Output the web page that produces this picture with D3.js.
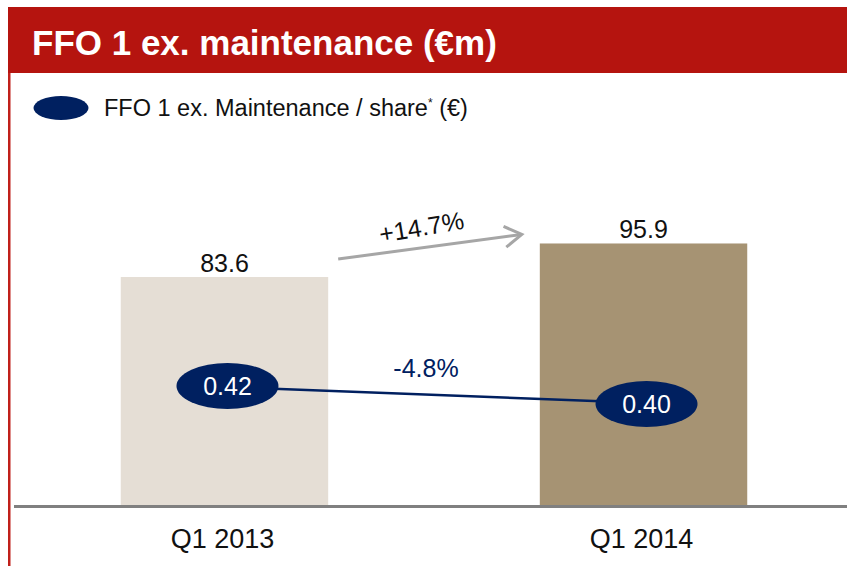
<!DOCTYPE html>
<html>
<head>
<meta charset="utf-8">
<script src="https://cdn.jsdelivr.net/npm/d3@7"></script>
<style>
  body { margin: 0; background: #fff; }
  svg { display: block; font-family: Arial, "Liberation Sans", sans-serif; }
</style>
</head>
<body>
<div id="chart"></div>
<script>
const categories = ['Q1 2013', 'Q1 2014']
const ffoValues = [83.6, 95.9]
const perShare = [0.42, 0.40]
const perShareLabels = ['0.42', '0.40']
const barColors = ['#E5DED5', '#A69373']
const growthLabel = '+14.7%'
const shareChangeLabel = '-4.8%'

const width = 847, height = 566
const navy = '#002060'

const svg = d3.select('#chart').append('svg')
    .attr('width', width)
    .attr('height', height)

// header band
svg.append('rect').attr('x', 8).attr('y', 7).attr('width', width - 8).attr('height', 66).attr('fill', '#B5140F')
svg.append('text').text('FFO 1 ex. maintenance (€m)')
    .attr('x', 32).attr('y', 55)
    .attr('fill', '#fff').attr('font-size', 35).attr('font-weight', 'bold')
// left red rule
svg.append('rect').attr('x', 8).attr('y', 73).attr('width', 2.5).attr('height', height - 73).attr('fill', '#C0201A')

// legend
svg.append('ellipse').attr('cx', 61).attr('cy', 108).attr('rx', 27.5).attr('ry', 12).attr('fill', navy)
const leg = svg.append('text').attr('x', 104).attr('y', 116).attr('font-size', 23.5).attr('fill', '#111')
leg.append('tspan').text('FFO 1 ex. Maintenance / share')
leg.append('tspan').text('*').attr('font-size', 12).attr('dy', -9)
leg.append('tspan').text(' (€)').attr('dy', 9)

const xScale = d3.scaleBand()
    .domain(categories)
    .range([16, 852])
    .paddingInner(0.505)
    .paddingOuter(0.25)

const yScale = d3.scaleLinear()
    .domain([0, 100])
    .range([505, 232.3])

const y2Scale = d3.scaleLinear()
    .domain([0.3, 0.5])
    .range([494, 314])

const bars = categories.map((c, i) => ({cat: c, value: ffoValues[i], share: perShare[i], label: perShareLabels[i], color: barColors[i]}))

svg.selectAll('.bar')
    .data(bars)
    .enter().append('rect')
    .attr('class', 'bar')
    .attr('x', d => xScale(d.cat))
    .attr('y', d => yScale(d.value))
    .attr('width', xScale.bandwidth())
    .attr('height', d => yScale(0) - yScale(d.value))
    .attr('fill', d => d.color)

svg.selectAll('.bar-label')
    .data(bars)
    .enter().append('text')
    .attr('class', 'bar-label')
    .attr('x', d => xScale(d.cat) + xScale.bandwidth() / 2)
    .attr('y', d => yScale(d.value) - 5)
    .attr('text-anchor', 'middle')
    .attr('font-size', 25)
    .attr('fill', '#111')
    .text(d => d.value.toFixed(1))

// baseline
svg.append('rect').attr('x', 14).attr('y', 505).attr('width', width - 14).attr('height', 3).attr('fill', '#808080')

svg.selectAll('.cat-label')
    .data(bars)
    .enter().append('text')
    .attr('class', 'cat-label')
    .attr('x', d => xScale(d.cat) + xScale.bandwidth() / 2 - 2)
    .attr('y', 548)
    .attr('text-anchor', 'middle')
    .attr('font-size', 27)
    .attr('fill', '#111')
    .text(d => d.cat)

// growth arrow between bar tops
const ax0 = xScale(categories[0]) + xScale.bandwidth() + 10
const ax1 = xScale(categories[1]) - 18
const ay0 = yScale(ffoValues[0]) - 18
const ay1 = yScale(ffoValues[1]) - 9
svg.append('line').attr('x1', ax0).attr('y1', ay0).attr('x2', ax1).attr('y2', ay1)
    .attr('stroke', '#A6A6A6').attr('stroke-width', 3)
const ang = Math.atan2(ay1 - ay0, ax1 - ax0)
const hl = 20, ha = 0.55
svg.append('path')
    .attr('d', `M${ax1 - hl * Math.cos(ang - ha)},${ay1 - hl * Math.sin(ang - ha)} L${ax1},${ay1} L${ax1 - hl * Math.cos(ang + ha)},${ay1 - hl * Math.sin(ang + ha)}`)
    .attr('fill', 'none').attr('stroke', '#A6A6A6').attr('stroke-width', 3)
const amx = (ax0 + ax1) / 2, amy = (ay0 + ay1) / 2
svg.append('text').text(growthLabel)
    .attr('transform', `translate(${amx - 7},${amy - 11}) rotate(${ang * 180 / Math.PI - 2})`)
    .attr('text-anchor', 'middle').attr('font-size', 25).attr('fill', '#111')

// per share line + ellipses
const cx = d => xScale(d.cat) + xScale.bandwidth() / 2 + 3
svg.append('line')
    .attr('x1', cx(bars[0])).attr('y1', y2Scale(bars[0].share) + 1)
    .attr('x2', cx(bars[1])).attr('y2', y2Scale(bars[1].share) - 1)
    .attr('stroke', navy).attr('stroke-width', 2.5)

svg.append('text').text(shareChangeLabel)
    .attr('x', (cx(bars[0]) + cx(bars[1])) / 2 - 11).attr('y', 377)
    .attr('text-anchor', 'middle').attr('font-size', 25).attr('fill', navy)

svg.selectAll('.share-dot')
    .data(bars)
    .enter().append('ellipse')
    .attr('class', 'share-dot')
    .attr('cx', cx)
    .attr('cy', d => y2Scale(d.share))
    .attr('rx', 51)
    .attr('ry', 23)
    .attr('fill', navy)

svg.selectAll('.share-label')
    .data(bars)
    .enter().append('text')
    .attr('class', 'share-label')
    .attr('x', cx)
    .attr('y', d => y2Scale(d.share) + 9)
    .attr('text-anchor', 'middle')
    .attr('font-size', 25)
    .attr('fill', '#fff')
    .text(d => d.label)
</script>
</body>
</html>
